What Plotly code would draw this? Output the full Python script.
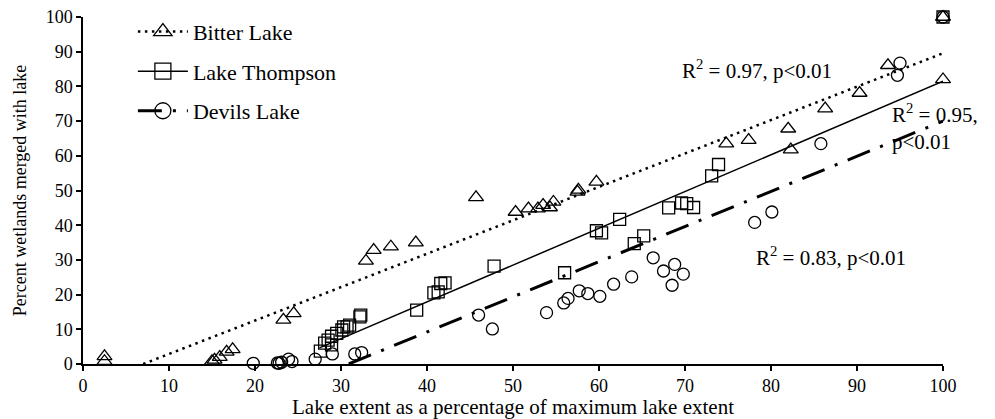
import numpy as np
import plotly.graph_objects as go

# ---------------- data ----------------
bitter_x = [2.5, 2.5, 15.0, 15.3, 15.9, 16.7, 17.4, 23.3, 24.5, 32.9, 33.8, 35.8, 38.7,
            45.7, 50.3, 51.8, 52.9, 53.5, 54.3, 54.7, 57.5, 57.6, 59.7, 74.8, 77.4,
            82.0, 82.3, 86.3, 90.3, 93.6, 100.0, 100.0]
bitter_y = [2.2, 0.8, 0.8, 1.2, 2.0, 3.5, 4.2, 12.7, 14.6, 29.7, 32.8, 33.8, 35.0,
            48.0, 43.8, 44.8, 44.8, 45.8, 45.1, 46.7, 49.6, 50.2, 52.5, 63.5, 64.5,
            67.8, 61.8, 73.6, 78.1, 86.1, 82.0, 100.0]

thompson_x = [27.6, 28.1, 28.5, 28.9, 28.9, 29.5, 30.1, 30.3, 30.7, 31.0, 32.2, 32.3,
              38.8, 40.8, 41.3, 41.6, 42.1, 47.8, 56.0, 59.7, 60.3, 62.4, 64.1, 65.2,
              68.1, 69.6, 70.2, 71.0, 73.1, 73.9, 100.0]
thompson_y = [3.7, 6.0, 6.9, 5.5, 8.0, 8.8, 9.8, 10.7, 10.7, 11.2, 13.6, 14.1,
              15.5, 20.5, 20.8, 23.2, 23.4, 28.2, 26.3, 38.4, 37.8, 41.7, 34.7, 36.9,
              45.0, 46.4, 46.2, 45.1, 54.2, 57.5, 100.0]

devils_x = [19.8, 22.6, 22.8, 23.1, 23.9, 24.3, 27.0, 29.0, 31.6, 32.4, 46.0, 47.6,
            53.9, 55.9, 56.4, 57.7, 58.7, 60.1, 61.7, 63.8, 66.3, 67.5, 68.8, 68.5,
            69.8, 78.1, 80.1, 85.8, 95.0, 94.7, 100.0]
devils_y = [0.2, 0.3, 0.2, 0.5, 1.4, 0.7, 1.4, 2.9, 2.9, 3.3, 14.1, 10.1,
            14.8, 17.6, 18.9, 21.1, 20.3, 19.5, 23.0, 25.1, 30.6, 26.8, 28.7, 22.7,
            25.9, 40.8, 43.8, 63.5, 86.7, 83.2, 100.0]

series_names = ["Bitter Lake", "Lake Thompson", "Devils Lake"]
trend_slope = [0.963, 1.06, 1.013]
trend_intercept = [-6.74, -24.5, -31.3]
trend_x_start = [7.0, 27.5, 30.9]
trend_x_end = [100.0, 100.0, 100.0]

annot_text = ["R<sup>2</sup> = 0.97, p<0.01", "R<sup>2</sup> = 0.95,<br>p<0.01",
              "R<sup>2</sup> = 0.83, p<0.01"]
annot_x = [78.4, 93.8, 87.0]
annot_y = [84.9, 68.2, 31.1]
annot_anchor = ["center", "left", "center"]

x_ticks = [0, 10, 20, 30, 40, 50, 60, 70, 80, 90, 100]
y_ticks = [0, 10, 20, 30, 40, 50, 60, 70, 80, 90, 100]

# ---------------- figure ----------------
FONT = "Liberation Serif, Times New Roman, serif"
fig = go.Figure()

xs = [bitter_x, thompson_x, devils_x]
ys = [bitter_y, thompson_y, devils_y]
symbols = ["triangle-up-open", "square-open", "circle-open"]
msizes = [13, 12, 12]
dashes = ["2.5px,4.5px", "solid", "24px,11px,3px,11px"]
lwidths = [2.5, 1.5, 3]

for i in range(3):
    # data points
    fig.add_trace(go.Scatter(
        x=xs[i], y=ys[i], name=series_names[i], mode="markers",
        legendgroup=series_names[i], showlegend=False,
        marker=dict(symbol=symbols[i], size=msizes[i], color="black",
                    line=dict(width=1.3, color="black")),
        cliponaxis=False))
    # linear trend line
    tx = np.array([trend_x_start[i], trend_x_end[i]])
    ty = trend_slope[i] * tx + trend_intercept[i]
    fig.add_trace(go.Scatter(
        x=tx, y=ty, mode="lines", showlegend=False, legendgroup=series_names[i],
        line=dict(color="black", width=lwidths[i], dash=dashes[i]),
        hoverinfo="skip"))

# legend entries combining marker + line style
for i in range(3):
    fig.add_trace(go.Scatter(
        x=[None], y=[None], name=series_names[i], mode="markers+lines",
        marker=dict(symbol=symbols[i], size=16, color="black",
                    line=dict(width=1.3, color="black")),
        line=dict(color="black", width=lwidths[i], dash=dashes[i]),
        legendgroup=series_names[i]))

for i in range(3):
    fig.add_annotation(x=annot_x[i], y=annot_y[i], text=annot_text[i], showarrow=False,
                       xanchor=annot_anchor[i], yanchor="middle", align="left",
                       font=dict(size=21))

fig.update_layout(
    width=995, height=419,
    margin=dict(l=83, r=52, t=17, b=55, autoexpand=False),
    paper_bgcolor="white", plot_bgcolor="white",
    font=dict(family=FONT, size=20, color="black"),
    showlegend=True,
    legend=dict(x=0.058, y=1.018, xanchor="left", yanchor="top",
                font=dict(size=22), bgcolor="rgba(0,0,0,0)",
                tracegroupgap=8, itemwidth=50),
    xaxis=dict(range=[0, 100], tickvals=x_ticks, showgrid=False, zeroline=False,
               showline=True, linecolor="black", linewidth=1.5,
               ticks="outside", ticklen=5, tickcolor="black", tickwidth=1.5,
               tickfont=dict(size=18), automargin=False,
               title=dict(text="Lake extent as a percentage of maximum lake extent",
                          font=dict(size=21), standoff=4)),
    yaxis=dict(range=[0, 100], tickvals=y_ticks, showgrid=False, zeroline=False,
               showline=True, linecolor="black", linewidth=1.5,
               ticks="outside", ticklen=5, tickcolor="black", tickwidth=1.5,
               tickfont=dict(size=18), automargin=False,
               title=dict(text="Percent wetlands merged with lake",
                          font=dict(size=18), standoff=14)),
)

fig.write_html("out.html")
